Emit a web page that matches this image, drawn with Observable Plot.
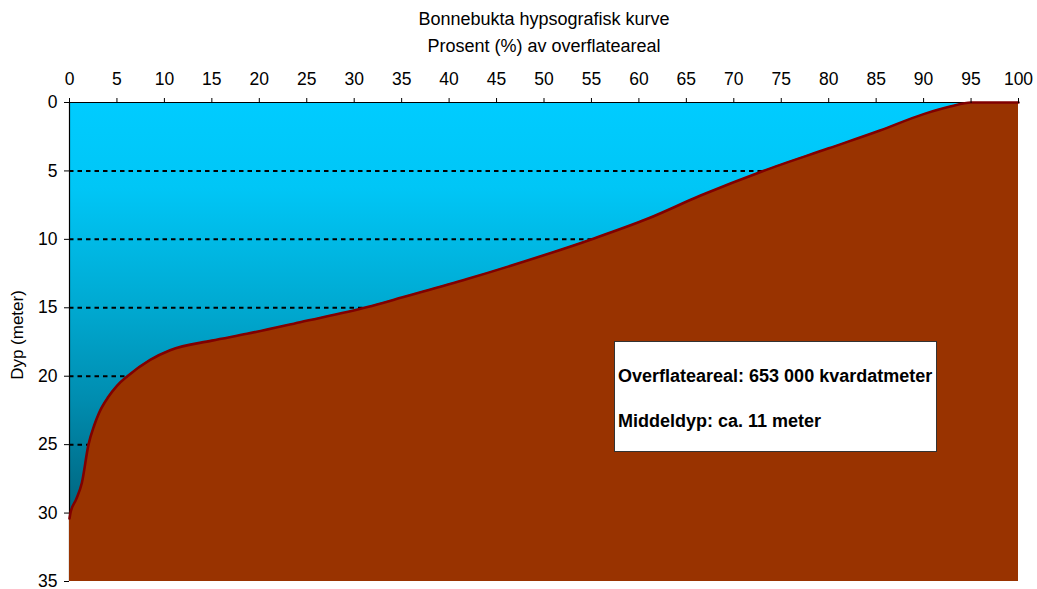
<!DOCTYPE html>
<html><head><meta charset="utf-8">
<script src="https://cdn.jsdelivr.net/npm/d3@7"></script>
<script src="https://cdn.jsdelivr.net/npm/@observablehq/plot@0.6"></script>
<style>
body{margin:0;background:#fff;font-family:"Liberation Sans",Arial,sans-serif;}
#wrap{position:relative;width:1037px;height:589px;}
#box{position:absolute;left:614px;top:341px;width:321px;height:109px;border:1.5px solid #333;background:#fff;font-weight:bold;font-size:18px;color:#000;}
#box div{position:absolute;left:3px;white-space:nowrap;line-height:20px;}
</style></head><body>
<div id="wrap"></div>
<script>
// Data
const title = "Bonnebukta hypsografisk kurve";
const subtitle = "Prosent (%) av overflateareal";
const yLabel = "Dyp (meter)";
const boxLines = ["Overflateareal: 653 000 kvardatmeter", "Middeldyp: ca. 11 meter"];

const pct =   [0, 0.1, 0.7, 1.3, 2.0, 2.6, 3.1, 4.1, 5.0, 6.1, 8.5, 10.6, 15, 18.7, 24.3, 31.4, 35, 41.9, 48, 55.2, 60.9, 66.5, 73.1, 80, 85.4, 90, 92.8, 95, 100];
const depth = [30.4, 30.0, 29.0, 27.8, 25.0, 23.6, 22.7, 21.5, 20.7, 20.0, 18.8, 18.1, 17.4, 16.9, 16.05, 14.95, 14.25, 12.9, 11.6, 9.95, 8.5, 6.8, 5.0, 3.35, 2.05, 0.85, 0.3, 0, 0];

const dotDepths = [5, 10, 15, 20, 25];
const xTicks = [0, 5, 10, 15, 20, 25, 30, 35, 40, 45, 50, 55, 60, 65, 70, 75, 80, 85, 90, 95, 100];
const yTicks = [0, 5, 10, 15, 20, 25, 30, 35];
const maxDepth = 35;

const rows = pct.map((p, i) => ({pct: p, depth: depth[i]}));

const stops = [[0, "#00CCFF"], [0.18, "#00C6F6"], [0.42, "#00AAD2"], [0.62, "#008DB0"], [0.8, "#006E8A"], [1, "#00546A"]];

function background(index, scales, values, dims) {
  const g = d3.create("svg:g");
  const grad = g.append("defs").append("linearGradient")
    .attr("id", "water").attr("x1", 0).attr("y1", 0).attr("x2", 0).attr("y2", 1);
  stops.forEach(([o, c]) => grad.append("stop").attr("offset", o).attr("stop-color", c));
  g.append("rect")
    .attr("x", dims.marginLeft).attr("y", dims.marginTop)
    .attr("width", dims.width - dims.marginLeft - dims.marginRight)
    .attr("height", dims.height - dims.marginTop - dims.marginBottom)
    .attr("fill", "url(#water)");
  return g.node();
}

const chart = Plot.plot({
  width: 1037,
  height: 589,
  marginLeft: 69,
  marginRight: 19,
  marginTop: 102,
  marginBottom: 8,
  style: {fontFamily: "'Liberation Sans', Arial, sans-serif", fontSize: "17.5px", background: "#fff", color: "#000"},
  x: {domain: [0, 100]},
  y: {domain: [0, maxDepth], reverse: true},
  marks: [
    background,
    Plot.ruleY(dotDepths, {y: d => d, x1: 0, x2: 100, stroke: "#000", strokeWidth: 2, strokeDasharray: "4.5,4"}),
    Plot.ruleX([0], {stroke: "#000", strokeWidth: 1.2}),
    Plot.ruleY([0], {stroke: "#000", strokeWidth: 1.2}),
    Plot.areaY(rows, {x: "pct", y1: maxDepth, y2: "depth", fill: "#993300", curve: "monotone-x"}),
    Plot.line(rows, {x: "pct", y: "depth", stroke: "#800000", strokeWidth: 2.6, curve: "monotone-x"}),
    Plot.axisX({anchor: "top", ticks: xTicks, tickSize: 5, tickPadding: 13, fontSize: 17.5, label: null}),
    Plot.axisY({anchor: "left", ticks: yTicks, tickSize: 5, tickPadding: 7, fontSize: 17.5, label: null}),
    Plot.text([title], {frameAnchor: "top", lineAnchor: "middle", text: d => d, dy: -83, fontSize: 18}),
    Plot.text([subtitle], {frameAnchor: "top", lineAnchor: "middle", text: d => d, dy: -56, fontSize: 18}),
    Plot.text([yLabel], {frameAnchor: "left", textAnchor: "middle", lineAnchor: "middle", text: d => d, rotate: -90, dx: -51.5, dy: -7, fontSize: 17})
  ]
});

const wrap = document.getElementById("wrap");
wrap.appendChild(chart);
const box = document.createElement("div");
box.id = "box";
boxLines.forEach((t, i) => {
  const d = document.createElement("div");
  d.textContent = t;
  d.style.top = (i === 0 ? 24 : 69) + "px";
  box.appendChild(d);
});
wrap.appendChild(box);
</script>
</body></html>
